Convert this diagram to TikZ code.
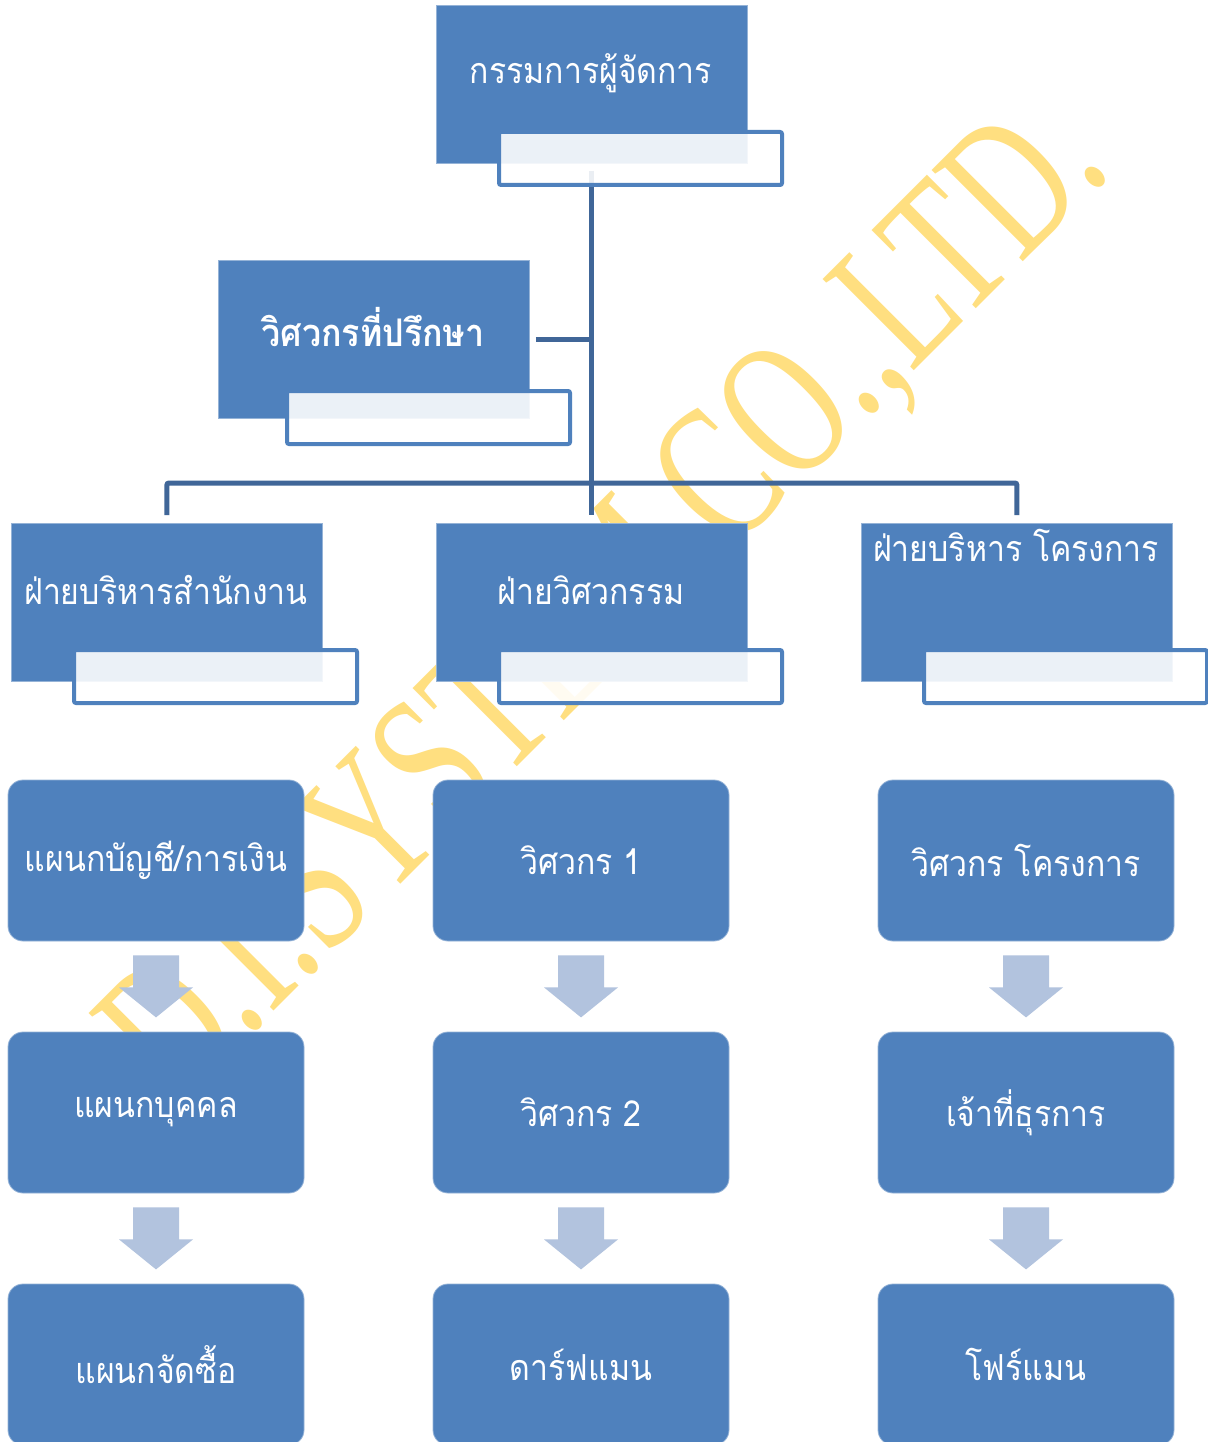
\documentclass[tikz,border=0pt]{standalone}
\usepackage{fontspec}
\usetikzlibrary{calc}
\newfontfamily\thai[Script=Thai]{Loma}
\newfontfamily\wmfont{Liberation Serif}
\definecolor{boxblue}{RGB}{79,129,189}
\definecolor{linkblue}{RGB}{64,102,152}
\definecolor{arrowfill}{RGB}{178,195,222}
\definecolor{wmyellow}{RGB}{255,223,128}
\tikzset{
  mainbox/.style={fill=boxblue, draw=boxblue!60!white, line width=0.8, anchor=north west, minimum width=311, minimum height=158, inner sep=0},
  subbox/.style={fill=white, fill opacity=0.89, draw=boxblue, draw opacity=1, line width=4, rounded corners=2, anchor=north west, minimum width=283, minimum height=53, inner sep=0},
  child/.style={fill=boxblue, draw=boxblue!60!white, line width=0.8, rounded corners=15, minimum width=296, minimum height=161, inner sep=0},
  conn/.style={draw=linkblue, line width=5, rounded corners=2},
  label/.style={text=white, font=\thai\fontsize{32}{36}\selectfont, yscale=1.12, inner sep=0},
  blab/.style={label, font=\thai\bfseries\fontsize{34}{38}\selectfont},
}
\newcommand\blockarr[1]{%
  \fill[arrowfill] ($(#1.south)+(-23,14)$) -- ++(46,0) -- ++(0,32) -- ++(14,0)
    -- ++(-37,30) -- ++(-37,-30) -- ++(14,0) -- cycle;}
\begin{document}
\begin{tikzpicture}[x=1pt,y=-1pt]
\useasboundingbox (0,0) rectangle (1207,1442);
\fill[white] (0,0) rectangle (1207,1442);
% watermark
\node[text=wmyellow, font=\wmfont\fontsize{197}{200}\selectfont, anchor=center, rotate=45, xscale=0.69, inner sep=0] (wm) at (610,604) {D.I.SYSTEM CO.,LTD.};
% coordinates for connectors
\coordinate (bar) at (591,483);
% top boxes
\node[mainbox] (md) at (436,5) {};
\node[mainbox] (cons) at (218,260) {};
\node[mainbox] (dl) at (11,523) {};
\node[mainbox] (dm) at (436,523) {};
\node[mainbox] (dr) at (861,523) {};
% connectors
\draw[conn] ([yshift=-7]md.south) -- ([yshift=8]dm.north);
\draw[conn] ([xshift=6]cons.east) -- (cons.east -| md.south);
\draw[conn] ([yshift=8]dl.north) |- (bar) -| ([yshift=8]dr.north);
% white sub boxes
\node[subbox] (mds) at (497,130) {};
\node[subbox] (conss) at (285,389) {};
\node[subbox] (dls) at (72,648) {};
\node[subbox] (dms) at (497,648) {};
\node[subbox] (drs) at (922,648) {};
% texts of top boxes
\node[label] (mdt) at (591,73) {กรรมการผู้จัดการ};
\node[blab] (const) at (373,327) {วิศวกรที่ปรึกษา};
\node[label] (dlt) at (166,590) {ฝ่ายบริหารสำนักงาน};
\node[label] (dmt) at (591,590) {ฝ่ายวิศวกรรม};
\node[label] (drt) at (1016,545) {ฝ่ายบริหาร โครงการ};
% child boxes
\node[child] (a1) at (156,860.5) {};
\node[child] (a2) at (156,1112.5) {};
\node[child] (a3) at (156,1364.5) {};
\node[child] (b1) at (581,860.5) {};
\node[child] (b2) at (581,1112.5) {};
\node[child] (b3) at (581,1364.5) {};
\node[child] (c1) at (1026,860.5) {};
\node[child] (c2) at (1026,1112.5) {};
\node[child] (c3) at (1026,1364.5) {};
\node[label] (a1t) at (a1) {แผนกบัญชี/การเงิน};
\node[label] (a2t) at (a2) {แผนกบุคคล};
\node[label] (a3t) at (a3) {แผนกจัดซื้อ};
\node[label] (b1t) at (b1) {วิศวกร 1};
\node[label] (b2t) at (b2) {วิศวกร 2};
\node[label] (b3t) at (b3) {ดาร์ฟแมน};
\node[label] (c1t) at (c1) {วิศวกร โครงการ};
\node[label] (c2t) at (c2) {เจ้าที่ธุรการ};
\node[label] (c3t) at (c3) {โฟร์แมน};
% arrows
\blockarr{a1}\blockarr{a2}
\blockarr{b1}\blockarr{b2}
\blockarr{c1}\blockarr{c2}
\end{tikzpicture}
\end{document}
